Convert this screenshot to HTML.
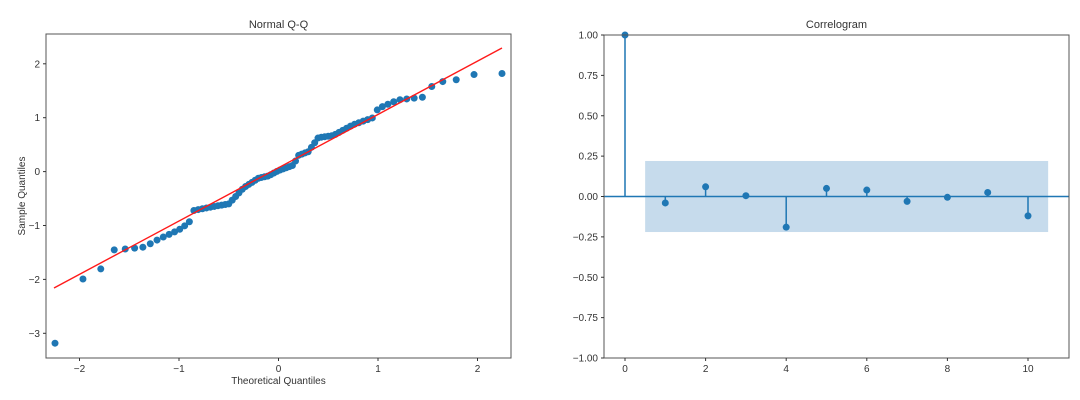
<!DOCTYPE html>
<html><head><meta charset="utf-8"><style>
html,body{margin:0;padding:0;background:#fff;width:1080px;height:400px;overflow:hidden}
svg text{font-family:"WenQuanYi Zen Hei","Liberation Sans",sans-serif;fill:#333}
</style></head><body>
<svg id="s" width="1080" height="400" xmlns="http://www.w3.org/2000/svg">
<g id="left"></g><g id="right"></g>
</svg>
<script>
const NS="http://www.w3.org/2000/svg";
function el(p,t,a,txt){const e=document.createElementNS(NS,t);for(const k in a)e.setAttribute(k,a[k]);if(txt!==undefined)e.textContent=txt;p.appendChild(e);return e;}
const L=document.getElementById('left'),R=document.getElementById('right');
const X=x=>278.5+99.5*x, Y=y=>171.6-53.9*y;
const kp=[[-2.25,-3.2],[-1.96,-1.97],[-1.78,-1.8],[-1.65,-1.45],[-1.5,-1.43],[-1.35,-1.4],[-1.2,-1.25],[-1.0,-1.08],[-0.9,-0.95],[-0.85,-0.72],[-0.6,-0.63],[-0.5,-0.6],[-0.35,-0.3],[-0.2,-0.12],[-0.1,-0.08],[0,0.02],[0.15,0.12],[0.2,0.3],[0.3,0.37],[0.35,0.5],[0.4,0.63],[0.55,0.67],[0.75,0.87],[0.95,1.0],[1.0,1.17],[1.2,1.33],[1.45,1.38],[1.55,1.6],[1.65,1.67],[1.78,1.7],[1.96,1.8],[2.25,1.82]];
function interp(x){if(x<=kp[0][0])return kp[0][1];for(let i=0;i<kp.length-1;i++){if(x<=kp[i+1][0]){const t=(x-kp[i][0])/(kp[i+1][0]-kp[i][0]);return kp[i][1]+t*(kp[i+1][1]-kp[i][1]);}}return kp[kp.length-1][1];}
function ninv(p){const a=[-39.69683028665376,220.9460984245205,-275.9285104469687,138.357751867269,-30.66479806614716,2.506628277459239],b=[-54.47609879822406,161.5858368580409,-155.6989798598866,66.80131188771972,-13.28068155288572],c=[-0.007784894002430293,-0.3223964580411365,-2.400758277161838,-2.549732539343734,4.374664141464968,2.938163982698783],d=[0.007784695709041462,0.3224671290700398,2.445134137142996,3.754408661907416];let q,r;if(p<0.02425){q=Math.sqrt(-2*Math.log(p));return(((((c[0]*q+c[1])*q+c[2])*q+c[3])*q+c[4])*q+c[5])/((((d[0]*q+d[1])*q+d[2])*q+d[3])*q+1);}if(p>1-0.02425){q=Math.sqrt(-2*Math.log(1-p));return-(((((c[0]*q+c[1])*q+c[2])*q+c[3])*q+c[4])*q+c[5])/((((d[0]*q+d[1])*q+d[2])*q+d[3])*q+1);}q=p-0.5;r=q*q;return(((((a[0]*r+a[1])*r+a[2])*r+a[3])*r+a[4])*r+a[5])*q/(((((b[0]*r+b[1])*r+b[2])*r+b[3])*r+b[4])*r+1);}
const n=80;
for(let i=1;i<=n;i++){const x=ninv(i/(n+1));el(L,'circle',{cx:X(x),cy:Y(interp(x)),r:3.5,fill:'#1f77b4'});}
el(L,'line',{x1:54,y1:288,x2:502,y2:48,stroke:'#ff1a1a','stroke-width':1.4});
el(L,'rect',{x:46,y:34,width:465,height:324,fill:'none',stroke:'#555','stroke-width':1});
[-2,-1,0,1,2].forEach(v=>{el(L,'line',{x1:X(v),x2:X(v),y1:358,y2:361,stroke:'#333'});el(L,'text',{x:X(v),y:372,'font-size':10,'text-anchor':'middle'},v<0?'\u2212'+(-v):v);});
[2,1,0,-1,-2,-3].forEach(v=>{el(L,'line',{x1:43,x2:46,y1:Y(v),y2:Y(v),stroke:'#333'});el(L,'text',{x:40,y:Y(v)+3.5,'font-size':10,'text-anchor':'end'},v<0?'\u2212'+(-v):v);});
el(L,'text',{x:278.5,y:28,'font-size':11,'text-anchor':'middle'},'Normal Q-Q');
el(L,'text',{x:278.5,y:384,'font-size':10,'text-anchor':'middle'},'Theoretical Quantiles');
el(L,'text',{x:0,y:0,'font-size':10,'text-anchor':'middle',transform:'translate(25,196) rotate(-90)'},'Sample Quantiles');
const RX=l=>625+40.3*l, RY=v=>196.5-161.5*v;
el(R,'rect',{x:RX(0.5),y:RY(0.22),width:RX(10.5)-RX(0.5),height:RY(-0.22)-RY(0.22),fill:'#c6dbec'});
el(R,'line',{x1:604,x2:1069,y1:RY(0),y2:RY(0),stroke:'#1f77b4','stroke-width':1.5});
const vals=[1,-0.04,0.06,0.005,-0.19,0.05,0.04,-0.03,-0.005,0.025,-0.12];
vals.forEach((v,l)=>{el(R,'line',{x1:RX(l),x2:RX(l),y1:RY(0),y2:RY(v),stroke:'#1f77b4','stroke-width':1.5});el(R,'circle',{cx:RX(l),cy:RY(v),r:3.5,fill:'#1f77b4'});});
el(R,'rect',{x:604,y:35,width:465,height:323,fill:'none',stroke:'#555','stroke-width':1});
[0,2,4,6,8,10].forEach(v=>{el(R,'line',{x1:RX(v),x2:RX(v),y1:358,y2:361,stroke:'#333'});el(R,'text',{x:RX(v),y:372,'font-size':10,'text-anchor':'middle'},v);});
[1,0.75,0.5,0.25,0,-0.25,-0.5,-0.75,-1].forEach(v=>{el(R,'line',{x1:601,x2:604,y1:RY(v),y2:RY(v),stroke:'#333'});el(R,'text',{x:598,y:RY(v)+3.5,'font-size':10,'text-anchor':'end'},(v<0?'\u2212':'')+Math.abs(v).toFixed(2));});
el(R,'text',{x:836.5,y:28,'font-size':11,'text-anchor':'middle'},'Correlogram');
</script>
</body></html>
